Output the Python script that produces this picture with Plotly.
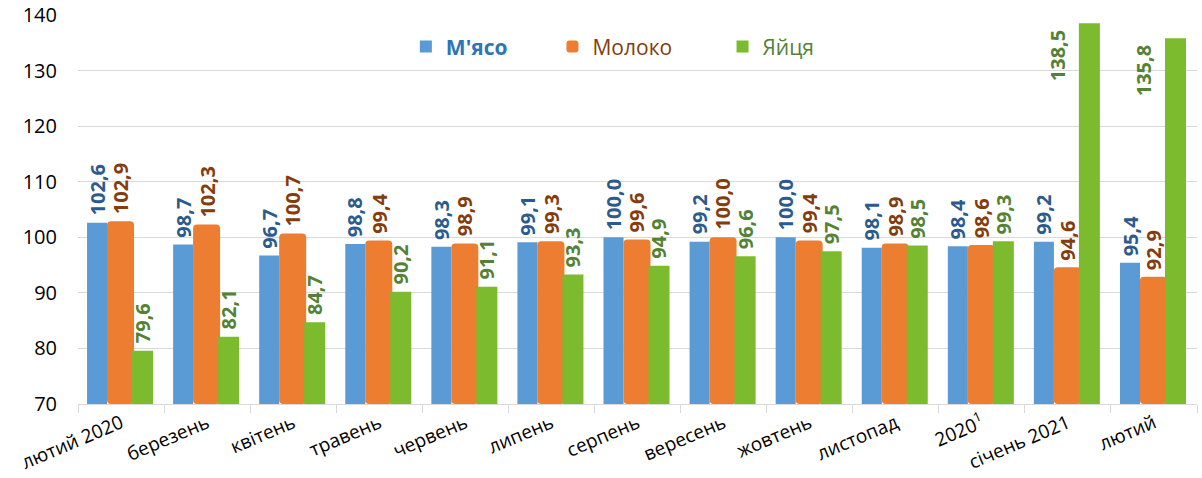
import plotly.graph_objects as go

categories = ["лютий 2020", "березень", "квітень", "травень", "червень", "липень",
              "серпень", "вересень", "жовтень", "листопад", "2020<sup>1</sup>",
              "січень 2021", "лютий"]
meat = [102.6, 98.7, 96.7, 98.8, 98.3, 99.1, 100.0, 99.2, 100.0, 98.1, 98.4, 99.2, 95.4]
milk = [102.9, 102.3, 100.7, 99.4, 98.9, 99.3, 99.6, 100.0, 99.4, 98.9, 98.6, 94.6, 92.9]
eggs = [79.6, 82.1, 84.7, 90.2, 91.1, 93.3, 94.9, 96.6, 97.5, 98.5, 99.3, 138.5, 135.8]

series = [
    dict(name="<b>М'ясо</b>", values=meat, color="#5B9BD5", label="#2B5B8C",
         offset=-0.395, width=0.233, radius=0, legend="legend", lx=0.293),
    dict(name="Молоко", values=milk, color="#ED7D31", label="#843C0C",
         offset=-0.163, width=0.314, radius=4, legend="legend2", lx=0.424),
    dict(name="Яйця", values=eggs, color="#7CBB2E", label="#548235",
         offset=0.128, width=0.244, radius=0, legend="legend3", lx=0.576),
]

YMIN, YMAX = 70, 140
FONT = "Open Sans"
LBL = 20

fig = go.Figure()
annotations = []
for s in series:
    fig.add_trace(go.Bar(
        x=categories, y=[v - YMIN for v in s["values"]], base=YMIN,
        name=s["name"], marker=dict(color=s["color"], line=dict(width=0),
                                    cornerradius=s["radius"]),
        offset=s["offset"], width=s["width"], legend=s["legend"],
        hoverinfo="skip",
    ))
    for i, v in enumerate(s["values"]):
        txt = f"{v:.1f}".replace(".", ",")
        xc = i + s["offset"] + s["width"] / 2
        if v + 8 > YMAX:
            # no room above the bar: label sits to the left, top-aligned
            annotations.append(dict(
                x=i + s["offset"] - 0.07, y=v, xref="x", yref="y", text=txt,
                textangle=-90, showarrow=False, xanchor="right", yanchor="top",
                yshift=-5, font=dict(family=FONT, size=LBL, color=s["label"], weight="bold")))
        else:
            annotations.append(dict(
                x=xc, y=v, xref="x", yref="y", text=txt, textangle=-90,
                showarrow=False, xanchor="center", yanchor="bottom", yshift=5,
                font=dict(family=FONT, size=LBL, color=s["label"], weight="bold")))

legend_common = dict(orientation="h", yanchor="middle", y=0.918, xanchor="left",
                     bgcolor="rgba(0,0,0,0)", borderwidth=0)
fig.update_layout(
    barmode="overlay",
    width=1202, height=478,
    margin=dict(l=78, r=5, t=15, b=74, autoexpand=False),
    plot_bgcolor="white", paper_bgcolor="white",
    font=dict(family=FONT, size=18, color="#000000"),
    showlegend=True,
    legend=dict(**legend_common, x=series[0]["lx"],
                font=dict(family=FONT, size=21, color="#2E75B6")),
    legend2=dict(**legend_common, x=series[1]["lx"],
                 font=dict(family=FONT, size=21, color="#843C0C")),
    legend3=dict(**legend_common, x=series[2]["lx"],
                 font=dict(family=FONT, size=21, color="#548235")),
    annotations=annotations,
    xaxis=dict(type="category", tickangle=-23, showgrid=False, showline=True,
               linecolor="#D9D9D9", linewidth=1, ticks="outside",
               tickson="boundaries", ticklen=8, tickcolor="#D9D9D9",
               automargin=False,
               tickfont=dict(family=FONT, size=19, color="#000000")),
    yaxis=dict(range=[YMIN, YMAX], dtick=10, showgrid=True, gridcolor="#D9D9D9",
               gridwidth=1, zeroline=False, showline=False, ticks="",
               ticklabelstandoff=20, automargin=False,
               tickfont=dict(family=FONT, size=20, color="#000000")),
)

fig.write_html(
    "out.html",
    config={"displayModeBar": False},
    post_script="document.body.style.margin='0';document.body.style.overflow='hidden';",
)
